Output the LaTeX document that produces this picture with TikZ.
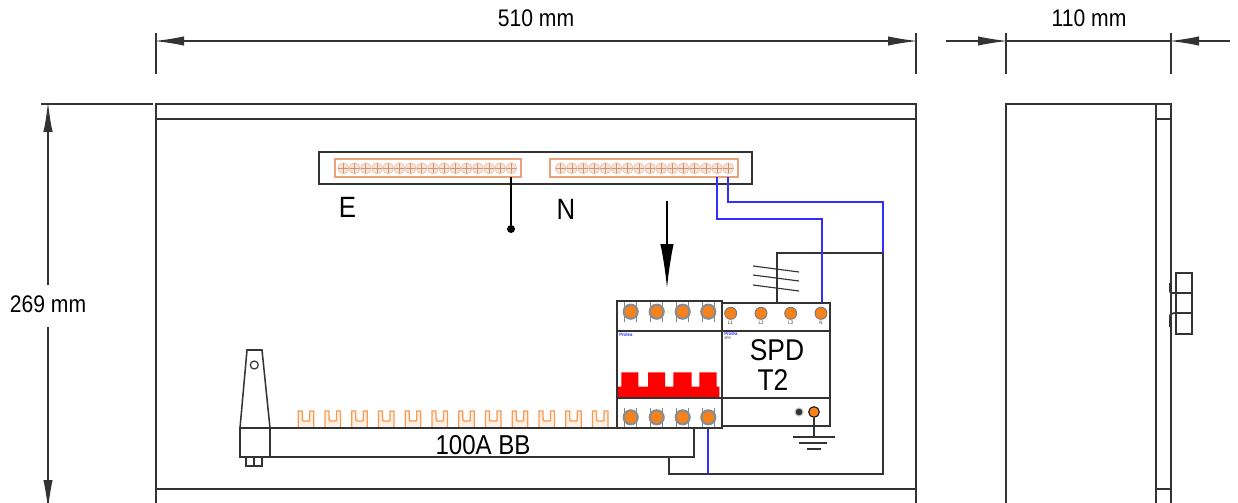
\documentclass[tikz,border=0pt]{standalone}
\usepackage{fontspec}
\setmainfont[FakeStretch=0.88]{Liberation Sans}
\usetikzlibrary{arrows.meta}
\definecolor{ln}{HTML}{333333}
\definecolor{wireblue}{HTML}{2F2FFF}
\definecolor{strip}{HTML}{E8A27C}
\definecolor{ora}{HTML}{F7821B}
\definecolor{comb}{HTML}{FB9A50}
\tikzset{
  x=.75pt,y=-.75pt,
  body/.style={draw=ln,line width=1.15pt,fill=white},
  wire/.style={draw=ln,line width=1.15pt},
  nwire/.style={draw=wireblue,line width=1.15pt},
  dimline/.style={draw=ln,line width=1.1pt},
  dimtip/.style={-{Latex[length=22.5pt,width=7pt]},draw=ln,line width=1.1pt},
  dimlabel/.style={font=\fontsize{18pt}{18pt}\selectfont,text=black,inner sep=0pt},
  biglabel/.style={font=\fontsize{22pt}{22pt}\selectfont,text=black,inner sep=0pt},
  striprect/.style={draw=strip,line width=1pt,fill=white},
  screw/.style={circle,draw=strip!70,line width=.5pt,fill=strip!30,minimum size=8.2pt,inner sep=0pt,
    path picture={\draw[strip!90!black,line width=.5pt]
      (path picture bounding box.north)--(path picture bounding box.south)
      (path picture bounding box.west)--(path picture bounding box.east);}},
  brkterm/.style={circle,draw=black!45,line width=1.7pt,fill=ora,minimum size=10.4pt,inner sep=0pt},
  spdterm/.style={circle,draw=ln!65,line width=.7pt,fill=ora,minimum size=9pt,inner sep=0pt},
  tinylabel/.style={font=\fontsize{3.8pt}{4pt}\selectfont,text=ln,inner sep=0pt},
  tinyblue/.style={font=\bfseries\fontsize{3.6pt}{4pt}\selectfont,text=wireblue,inner sep=0pt,anchor=west},
}
\begin{document}
\begin{tikzpicture}
\useasboundingbox (0,0) rectangle (1238,503);
\clip (0,0) rectangle (1238,503);
% ---- enclosure front
\draw[wire] (156,503) -- (156,104) -- (916,104) -- (916,503);
\draw[wire] (156,119) -- (916,119);
\draw[wire] (156,489) -- (916,489);
% ---- enclosure side
\draw[wire] (1006,503) -- (1006,104) -- (1171,104) -- (1171,503);
\draw[wire] (1156,104) -- (1156,503);
\draw[wire] (1156,119) -- (1171,119);
\draw[wire] (1156,489) -- (1171,489);
% handle
\draw[body] (1176,273) rectangle (1192,334);
\draw[wire] (1176,293) -- (1192,293) (1176,313) -- (1192,313);
\draw[draw=ln,line width=1.3pt] (1170,283) -- (1170,291) .. controls (1170,293) .. (1175,293);
\draw[draw=ln,line width=1.3pt] (1175,313) .. controls (1170,314) .. (1170,316) -- (1170,327);
% ---- dimensions
\coordinate (dl) at (154,41); \coordinate (dr) at (918,41);
\coordinate (sl) at (1008,41); \coordinate (sr) at (1169,41);
\coordinate (sla) at (946,41); \coordinate (sra) at (1230,41);
\coordinate (ht) at (48,102); \coordinate (hb) at (48,510);
\coordinate (hgt) at (48,285); \coordinate (hgb) at (48,327);
\draw[dimline] (156,33) -- (156,74) (916,33) -- (916,74)
  (1006,33) -- (1006,74) (1171,33) -- (1171,74) (41,104) -- (153,104);
\draw[dimtip] (536,41) -- (dl);
\draw[dimtip] (536,41) -- (dr);
\draw[dimtip] (sla) -- (sl);
\draw[dimtip] (sra) -- (sr);
\draw[dimline] (1006,41) -- (1171,41);
\draw[dimtip] (hgt) -- (ht);
\draw[dimtip] (hgb) -- (hb);
\node[dimlabel] (lw) at (536,18) {510 mm};
\node[dimlabel] (ld) at (1089,18) {110 mm};
\node[dimlabel] (lh) at (48,304) {269 mm};
% ---- terminal bar
\node[draw=ln,line width=1.15pt,fill=white,minimum width=324.75pt,minimum height=24pt,inner sep=0pt] (bar) at (535.5,168) {};
\draw[striprect] (335,159) rectangle (521,177);
\draw[striprect] (550,159) rectangle (738,177);
\foreach \i in {0,...,15}{
  \node[screw] (e\i) at ({343.4+\i*11.2},168.3) {};
  \node[screw] (n\i) at ({560.7+\i*11.17},168.3) {};
}
\node[biglabel] (lE) at (347.5,207) {E};
\node[biglabel] (lN) at (566,209.5) {N};
% E wire
\node[circle,fill=black,minimum size=6pt,inner sep=0pt] (edot) at (511,229) {};
\coordinate (eout) at (511,177);
\draw[draw=black,line width=1.15pt] (eout) -- (edot);
% arrow
\coordinate (as) at (667,201); \coordinate (ae) at (667,288);
\draw[-{Latex[length=33pt,width=10pt]},draw=black,line width=1.1pt] (as) -- (ae);
% ---- busbar
\foreach \i in {0,...,11}{
  \begin{scope}[shift={({298.3+\i*26.75},428)}]
  \draw[draw=comb,line width=1pt,fill=comb!15] (0,0) -- (0,-17) -- (4,-17) -- (4,-10)
    .. controls (4,-7) .. (6,-7) -- (10,-7) .. controls (11.5,-7) .. (11.5,-10) -- (11.5,-17) -- (15.5,-17) -- (15.5,0) -- cycle;
  \end{scope}
}
\draw[body] (240,428) -- (247,350) -- (262,350) -- (270,428);
\node[circle,draw=ln,line width=.9pt,minimum size=6pt,inner sep=0pt] (hole) at (254.3,365) {};
\draw[body] (246,457) rectangle (262,466);
\draw[wire] (254,457) -- (254,466);
\draw[body] (240,428) rectangle (694,457);
\draw[wire] (270,428) -- (270,457);
\node[biglabel,font=\fontsize{20.5pt}{20.5pt}\selectfont] (bb) at (483,445) {100A BB};
% ---- wires
\coordinate (w1a) at (717,177); \coordinate (w1b) at (717,219); \coordinate (w1c) at (822,219); \coordinate (w1d) at (822,303);
\coordinate (w2a) at (728,177); \coordinate (w2b) at (728,202); \coordinate (w2c) at (883,202); \coordinate (w2d) at (883,253);
\coordinate (bk1) at (777,303); \coordinate (bk2) at (777,253); \coordinate (bk3) at (883,474); \coordinate (bk4) at (669,474); \coordinate (bk5) at (669,457);
\coordinate (nlow) at (708,428); \coordinate (nend) at (708,474);
\draw[wire] (bk1) -- (bk2) -- (w2d) -- (bk3) -- (bk4) -- (bk5);
\draw[nwire] (w1a) -- (w1b) -- (w1c) -- (w1d);
\draw[nwire] (w2a) -- (w2b) -- (w2c) -- (w2d);
\draw[nwire] (nlow) -- (nend);
\draw[draw=ln,line width=.85pt] (753,266) -- (799,272) (753,275) -- (799,281) (753,285) -- (799,291);
% ---- SPD
\draw[body] (722,303) rectangle (830,426);
\draw[wire] (722,331) -- (830,331) (722,398) -- (830,398);
\foreach \x/\t/\n in {730.7/L1/a,761/L2/b,790.7/L3/c,821/N/d}{
  \node[spdterm] (spd\n) at (\x,313.3) {};
  \node[tinylabel] (spdl\n) at (\x,323) {\t};
}
\node[tinyblue] (pb) at (724,333.5) {Protea};
\node[tinylabel,anchor=west,font=\fontsize{2.8pt}{3pt}\selectfont] (pc) at (724,338.5) {SPD};
\node[biglabel,font=\fontsize{22.5pt}{22.5pt}\selectfont] (spdA) at (777,350) {SPD};
\node[biglabel,font=\fontsize{22.5pt}{22.5pt}\selectfont] (spdB) at (773,380.5) {T2};
\node[circle,fill=black!80,draw=ln!30,line width=.8pt,minimum size=6pt,inner sep=0pt] (smalls) at (799,412) {};
\node[spdterm,minimum size=8pt,draw=black] (eterm) at (814,412) {};
\coordinate (egnd) at (814,437);
\draw[wire] (eterm) -- (egnd);
\draw[wire] (793,437) -- (835,437) (799,443) -- (827,443) (807,449) -- (821,449);
% ---- breaker
\draw[body] (617,301) rectangle (722,428);
\fill[red] (618,398) -- (618,386.7) -- (621.3,386.7) -- (621.3,372.3) -- (638.3,372.3) -- (638.3,386.7)
  -- (648,386.7) -- (648,372.3) -- (665,372.3) -- (665,386.7)
  -- (673.3,386.7) -- (673.3,372.3) -- (691.7,372.3) -- (691.7,386.7)
  -- (699.3,386.7) -- (699.3,372.3) -- (716.7,372.3) -- (716.7,386.7) -- (719.3,386.7) -- (719.3,398) -- cycle;
\draw[wire] (617,331) -- (722,331) (617,398) -- (722,398);
\node[tinyblue] (pa) at (619,334.5) {Protea};
\foreach \x/\n in {630.7/a,656.7/b,682.7/c,708.3/d}{
  \draw[draw=ln!60,line width=.8pt] (\x-6,301.5) -- (\x-6,322) (\x+6,301.5) -- (\x+6,322)
     (\x-6,408) -- (\x-6,427) (\x+6,408) -- (\x+6,427);
  \node[brkterm] (bt\n) at (\x,311.7) {};
  \node[brkterm] (bb\n) at (\x,417.3) {};
}
\end{tikzpicture}
\end{document}
